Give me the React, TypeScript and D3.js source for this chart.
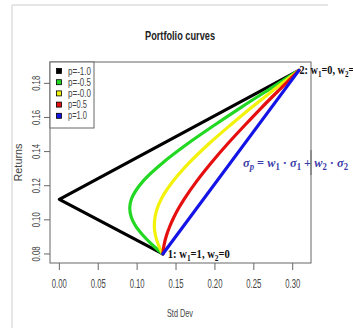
import { useEffect, useRef } from 'react';
import * as d3 from 'd3';

// Portfolio curves (std dev, return)
const curveRhoNeg1: [number, number][] = [
  [0.133, 0.08],
  [0.0, 0.112],
  [0.308, 0.1876],
];
const curveRhoNeg05: [number, number][] = [
  [0.133, 0.08], [0.1194, 0.0854], [0.1077, 0.0908], [0.0984, 0.0961],
  [0.0925, 0.1015], [0.0905, 0.1069], [0.0928, 0.1123], [0.1082, 0.123],
  [0.1338, 0.1338], [0.1648, 0.1446], [0.1987, 0.1553], [0.2342, 0.1661],
  [0.2708, 0.1768], [0.308, 0.1876],
];
const curveRho0: [number, number][] = [
  [0.133, 0.08], [0.1273, 0.0854], [0.1236, 0.0908], [0.1221, 0.0961],
  [0.123, 0.1015], [0.126, 0.1069], [0.1312, 0.1123], [0.1468, 0.123],
  [0.1677, 0.1338], [0.1923, 0.1446], [0.2193, 0.1553], [0.2478, 0.1661],
  [0.2775, 0.1768], [0.308, 0.1876],
];
const curveRho05: [number, number][] = [
  [0.133, 0.08], [0.1347, 0.0854], [0.1377, 0.0908], [0.1419, 0.0961],
  [0.1472, 0.1015], [0.1535, 0.1069], [0.1607, 0.1123], [0.1771, 0.123],
  [0.1959, 0.1338], [0.2164, 0.1446], [0.2381, 0.1553], [0.2607, 0.1661],
  [0.2841, 0.1768], [0.308, 0.1876],
];
const curveRho1: [number, number][] = [
  [0.133, 0.08],
  [0.308, 0.1876],
];

const curves = [curveRhoNeg1, curveRhoNeg05, curveRho0, curveRho05, curveRho1];
const legendLabels = ['p=-1.0', 'p=-0.5', 'p=-0.0', 'p=0.5', 'p=1.0'];
const curveColors = ['#000000', '#22d822', '#f2f20a', '#e60f0f', '#1414e6'];

const xTicks = [0, 0.05, 0.1, 0.15, 0.2, 0.25, 0.3];
const yTicks = [0.08, 0.1, 0.12, 0.14, 0.16, 0.18];

const asset1: [number, number] = [0.133, 0.08];
const asset2: [number, number] = [0.308, 0.1876];

export default function App() {
  const svgRef = useRef<SVGSVGElement>(null);

  useEffect(() => {
    if (!svgRef.current) return;
    const svg = d3.select(svgRef.current);
    svg.selectAll('*').remove();

    const box = { left: 50, right: 311, top: 62, bottom: 263 };
    const x = d3.scaleLinear().domain([-0.012, 0.3235]).range([box.left, box.right]);
    const y = d3.scaleLinear().domain([0.0747, 0.1925]).range([box.bottom, box.top]);

    const sans = '"Liberation Sans", Arial, sans-serif';
    const serif = '"Liberation Serif", "Times New Roman", serif';

    // faint outer frame of the screenshot
    svg.append('line').attr('x1', 12).attr('x2', 328).attr('y1', 5).attr('y2', 5)
      .attr('stroke', '#dedede').attr('stroke-width', 1.5);
    svg.append('line').attr('x1', 12).attr('x2', 12).attr('y1', 5).attr('y2', 328)
      .attr('stroke', '#dedede').attr('stroke-width', 1.5);

    // title
    svg.append('text')
      .attr('x', 180).attr('y', 39.5)
      .attr('text-anchor', 'middle')
      .attr('textLength', 70).attr('lengthAdjust', 'spacingAndGlyphs')
      .style('font-family', sans).style('font-weight', 'bold').style('font-size', '13px')
      .style('fill', '#222')
      .text('Portfolio curves');

    // curves
    const line = d3.line<[number, number]>()
      .x((d) => x(d[0]))
      .y((d) => y(d[1]))
      .curve(d3.curveMonotoneY);
    const straight = d3.line<[number, number]>()
      .x((d) => x(d[0]))
      .y((d) => y(d[1]));

    curves.forEach((pts, i) => {
      svg.append('path')
        .datum(pts)
        .attr('fill', 'none')
        .attr('stroke', curveColors[i])
        .attr('stroke-width', 3.2)
        .attr('stroke-linejoin', 'round')
        .attr('stroke-linecap', 'round')
        .attr('d', i === 0 ? straight(pts) : line(pts));
    });

    // plot box
    svg.append('rect')
      .attr('x', box.left).attr('y', box.top)
      .attr('width', box.right - box.left).attr('height', box.bottom - box.top)
      .attr('fill', 'none').attr('stroke', '#666').attr('stroke-width', 1);

    // x axis
    const xAxis = svg.append('g');
    xTicks.forEach((t) => {
      xAxis.append('line')
        .attr('x1', x(t)).attr('x2', x(t)).attr('y1', box.bottom).attr('y2', box.bottom + 7)
        .attr('stroke', '#666');
      xAxis.append('text')
        .attr('x', x(t)).attr('y', 287.5)
        .attr('text-anchor', 'middle')
        .attr('textLength', 15).attr('lengthAdjust', 'spacingAndGlyphs')
        .style('font-family', sans).style('font-size', '12px').style('fill', '#444')
        .text(d3.format('.2f')(t));
    });

    // y axis
    const yAxis = svg.append('g');
    yTicks.forEach((t) => {
      yAxis.append('line')
        .attr('x1', box.left - 6).attr('x2', box.left).attr('y1', y(t)).attr('y2', y(t))
        .attr('stroke', '#666');
      yAxis.append('text')
        .attr('transform', `translate(40, ${y(t)}) rotate(-90)`)
        .attr('text-anchor', 'middle')
        .attr('textLength', 15).attr('lengthAdjust', 'spacingAndGlyphs')
        .style('font-family', sans).style('font-size', '10px').style('fill', '#444')
        .text(d3.format('.2f')(t));
    });

    // axis titles
    svg.append('text')
      .attr('x', 180).attr('y', 316.5)
      .attr('text-anchor', 'middle')
      .attr('textLength', 26).attr('lengthAdjust', 'spacingAndGlyphs')
      .style('font-family', sans).style('font-size', '11px').style('fill', '#444')
      .text('Std Dev');
    svg.append('text')
      .attr('transform', `translate(22, ${(box.top + box.bottom) / 2}) rotate(-90)`)
      .attr('text-anchor', 'middle')
      .attr('textLength', 38).attr('lengthAdjust', 'spacingAndGlyphs')
      .style('font-family', sans).style('font-size', '10px').style('fill', '#444')
      .text('Returns');

    // legend
    const legend = svg.append('g');
    legend.append('rect')
      .attr('x', box.left).attr('y', box.top)
      .attr('width', 44).attr('height', 66)
      .attr('fill', 'white').attr('stroke', '#666');
    legendLabels.forEach((lab, i) => {
      const cy = 71 + i * 11.2;
      legend.append('rect')
        .attr('x', 56.5).attr('y', cy - 2.5).attr('width', 5).attr('height', 5)
        .attr('fill', curveColors[i]).attr('stroke', '#000').attr('stroke-width', 0.8);
      legend.append('text')
        .attr('x', 68).attr('y', cy + 3.5)
        .attr('textLength', lab.length === 6 ? 23 : 19).attr('lengthAdjust', 'spacingAndGlyphs')
        .style('font-family', sans).style('font-size', '10.5px').style('fill', '#444')
        .text(lab);
    });

    // rich text helper: parts with optional subscript
    const rich = (
      px: number,
      py: number,
      parts: { t: string; sub?: boolean; italic?: boolean }[],
      len: number,
      color: string,
      size: number
    ) => {
      const txt = svg.append('text')
        .attr('x', px).attr('y', py)
        .attr('textLength', len).attr('lengthAdjust', 'spacingAndGlyphs')
        .style('font-family', serif).style('font-weight', 'bold')
        .style('font-size', `${size}px`).style('fill', color);
      let shifted = false;
      parts.forEach((p) => {
        const ts = txt.append('tspan').text(p.t);
        if (p.italic) ts.style('font-style', 'italic');
        if (p.sub && !shifted) {
          ts.attr('dy', 3).style('font-size', `${size * 0.7}px`);
          shifted = true;
        } else if (p.sub) {
          ts.style('font-size', `${size * 0.7}px`);
        } else if (shifted) {
          ts.attr('dy', -3);
          shifted = false;
        }
      });
    };

    rich(x(asset2[0]) + 0.5, y(asset2[1]) + 4, [
      { t: '2: w' }, { t: '1', sub: true }, { t: '=0, w' }, { t: '2', sub: true }, { t: '=' },
    ], 55, '#111', 12.5);

    rich(x(asset1[0]) + 5, y(asset1[1]) + 4.5, [
      { t: '1: w' }, { t: '1', sub: true }, { t: '=1, w' }, { t: '2', sub: true }, { t: '=0' },
    ], 62, '#111', 12.5);

    rich(243, 167, [
      { t: 'σ', italic: true }, { t: 'p', sub: true, italic: true },
      { t: ' = ' }, { t: 'w', italic: true }, { t: '1', sub: true },
      { t: ' · ' }, { t: 'σ', italic: true }, { t: '1', sub: true },
      { t: ' + ' }, { t: 'w', italic: true }, { t: '2', sub: true },
      { t: ' · ' }, { t: 'σ', italic: true }, { t: '2', sub: true },
    ], 105, '#3a3aa8', 13.5);

    // the box edge runs through the formula in the original
    svg.append('line')
      .attr('x1', box.right).attr('x2', box.right).attr('y1', 150).attr('y2', 175)
      .attr('stroke', '#666');
  }, []);

  return (
    <svg
      ref={svgRef}
      width={353}
      height={328}
      style={{ position: 'absolute', left: 0, top: 0, background: 'white' }}
    />
  );
}
